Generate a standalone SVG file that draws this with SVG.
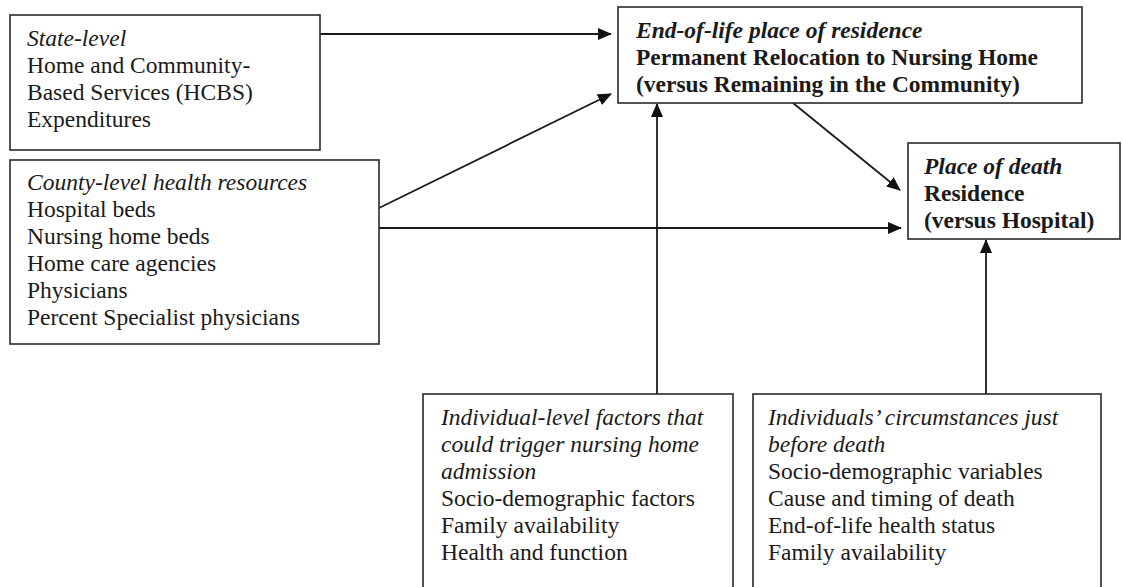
<svg xmlns="http://www.w3.org/2000/svg" width="1122" height="587" viewBox="0 0 1122 587">
<style>
  .box { fill: #ffffff; stroke: #2a2a2a; stroke-width: 1.6; }
  .t { font-family: "Liberation Serif", "Times New Roman", serif; font-size: 23.5px; fill: #1a1a1a; }
  .i { font-style: italic; }
  .b { font-weight: bold; }
  .edge { stroke: #1a1a1a; stroke-width: 1.8; fill: none; marker-end: url(#ah); }
</style>
<defs>
  <marker id="ah" viewBox="0 0 14 12" refX="13" refY="6" markerWidth="14" markerHeight="12" markerUnits="userSpaceOnUse" orient="auto">
    <path d="M0,0 L14,6 L0,12 Z" fill="#111"/>
  </marker>
</defs>
<rect width="1122" height="587" fill="#ffffff"/>

<g id="connectors">
  <line class="edge" x1="320" y1="34" x2="611" y2="34"/>
  <line class="edge" x1="379" y1="208" x2="611" y2="94"/>
  <line class="edge" x1="379" y1="228" x2="901" y2="228"/>
  <line class="edge" x1="793" y1="103" x2="900" y2="190"/>
  <line class="edge" x1="657" y1="394" x2="657" y2="104"/>
  <line class="edge" x1="986" y1="394" x2="986" y2="240"/>
</g>

<g id="state">
  <rect class="box" x="10" y="15" width="310" height="135"/>
  <text class="t i" x="27" y="46">State-level</text>
  <text class="t" x="27" y="73">Home and Community-</text>
  <text class="t" x="27" y="100">Based Services (HCBS)</text>
  <text class="t" x="27" y="127">Expenditures</text>
</g>

<g id="county">
  <rect class="box" x="10" y="160" width="369" height="184"/>
  <text class="t i" x="27" y="190">County-level health resources</text>
  <text class="t" x="27" y="217">Hospital beds</text>
  <text class="t" x="27" y="244">Nursing home beds</text>
  <text class="t" x="27" y="271">Home care agencies</text>
  <text class="t" x="27" y="298">Physicians</text>
  <text class="t" x="27" y="325">Percent Specialist physicians</text>
</g>

<g id="residence">
  <rect class="box" x="618" y="7" width="464" height="96"/>
  <text class="t i b" x="636" y="38">End-of-life place of residence</text>
  <text class="t b" x="636" y="65">Permanent Relocation to Nursing Home</text>
  <text class="t b" x="636" y="92">(versus Remaining in the Community)</text>
</g>

<g id="death">
  <rect class="box" x="908" y="143" width="212" height="96"/>
  <text class="t i b" x="924" y="174">Place of death</text>
  <text class="t b" x="924" y="201">Residence</text>
  <text class="t b" x="924" y="228">(versus Hospital)</text>
</g>

<g id="individual">
  <rect class="box" x="423" y="394" width="310" height="210"/>
  <text class="t i" x="441" y="425">Individual-level factors that</text>
  <text class="t i" x="441" y="452">could trigger nursing home</text>
  <text class="t i" x="441" y="479">admission</text>
  <text class="t" x="441" y="506">Socio-demographic factors</text>
  <text class="t" x="441" y="533">Family availability</text>
  <text class="t" x="441" y="560">Health and function</text>
</g>

<g id="circumstances">
  <rect class="box" x="753" y="394" width="348" height="210"/>
  <text class="t i" x="768" y="425">Individuals’ circumstances just</text>
  <text class="t i" x="768" y="452">before death</text>
  <text class="t" x="768" y="479">Socio-demographic variables</text>
  <text class="t" x="768" y="506">Cause and timing of death</text>
  <text class="t" x="768" y="533">End-of-life health status</text>
  <text class="t" x="768" y="560">Family availability</text>
</g>
</svg>
